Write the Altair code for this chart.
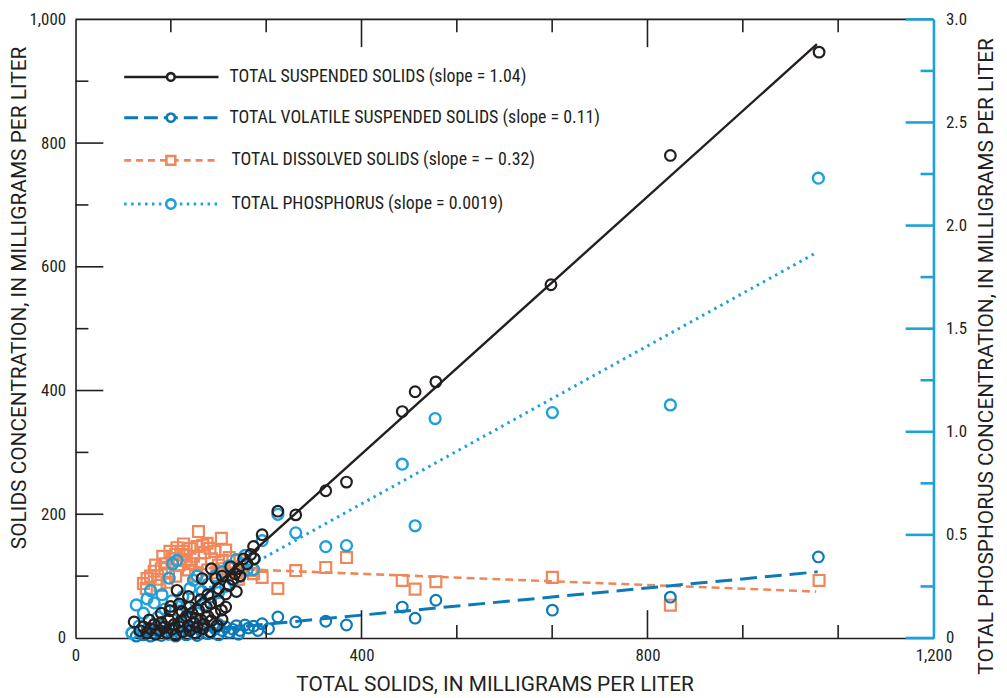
import altair as alt
import pandas as pd

# ---------------- data ----------------
tss_x = [1040, 832, 665, 504, 475, 457, 379, 350, 308, 283, 261, 249, 250, 235, 217, 223, 190, 196, 177, 210,
         142, 158, 189, 133, 204, 149, 168, 103, 82,
         90, 95, 100, 105, 110, 112, 118, 120, 125, 128, 130, 135, 138, 140, 145, 148, 150, 155, 158, 160,
         163, 165, 168, 170, 172, 175, 178, 180, 183, 185, 188, 190, 195, 198, 200, 205, 210, 215, 220, 225,
         230, 240, 245, 120, 132, 145, 160, 175, 185, 200, 205, 228]
tss_y = [947, 780, 571, 414, 398, 366, 252, 238, 199, 205, 167, 148, 128, 128, 115, 104, 112, 96, 96, 71,
         77, 67, 56, 51, 45, 43, 32, 29, 26,
         12, 18, 8, 15, 22, 6, 12, 25, 18, 8, 30, 14, 22, 5, 18, 28, 10, 35, 20, 12,
         40, 25, 8, 18, 45, 30, 15, 22, 50, 35, 10, 28, 40, 20, 60, 30, 50, 85, 95, 75,
         100, 120, 135, 40, 44, 55, 50, 62, 70, 80, 100, 112]

tvss_x = [1039, 832, 667, 504, 457, 475, 379, 350, 308, 283, 261, 249,
          79, 85, 90, 95, 100, 105, 110, 115, 120, 125, 130, 135, 140, 145, 150, 155, 160, 165, 170, 175,
          180, 185, 190, 195, 200, 205, 210, 215, 220, 225, 230, 237, 242, 270, 118, 150, 200, 255, 228]
tvss_y = [131, 66, 45, 61, 50, 32, 21, 27, 26, 34, 23, 19,
          8, 3, 10, 5, 12, 3, 8, 14, 4, 10, 6, 15, 3, 9, 12, 5, 16, 8, 4, 12,
          18, 7, 10, 15, 5, 12, 18, 9, 14, 20, 12, 21, 16, 15, 20, 22, 22, 12, 6]

tds_x = [1040, 832, 667, 504, 475, 457, 379, 350, 308, 283, 261, 249, 237, 246,
         172, 204, 210, 184, 151, 100, 99, 95, 105, 110, 115, 120, 125, 130, 135, 140, 145, 150, 155, 160,
         165, 170, 175, 180, 185, 190, 195, 200, 205, 215, 220, 225, 230, 112, 122, 132, 142, 152, 162,
         178, 188, 198, 208, 140, 128, 118, 158, 168, 228]
tds_y = [93, 53, 98, 91, 79, 93, 130, 114, 109, 80, 98, 104, 120, 109,
         172, 161, 142, 153, 152, 96, 80, 88, 100, 108, 95, 112, 120, 105, 128, 135, 118, 140, 125, 145,
         132, 148, 120, 138, 110, 128, 140, 118, 125, 130, 115, 105, 125, 118, 132, 140, 146, 134, 120,
         150, 145, 105, 112, 100, 90, 85, 110, 100, 95]

tp_x = [1039, 832, 667, 503, 457, 475, 379, 350, 308, 283, 261, 250, 249, 237,
        142, 136, 131, 105, 100, 85, 121, 79, 89, 177, 95, 110, 150, 160, 165, 170, 185, 195, 205, 215,
        225, 230, 210, 190, 180, 170, 160, 150, 140, 130, 120, 115, 125, 135, 145, 155, 200, 220, 240]
tp_y = [2.23, 1.13, 1.093, 1.064, 0.843, 0.544, 0.448, 0.443, 0.51, 0.60, 0.472, 0.385, 0.332, 0.40,
        0.376, 0.36, 0.29, 0.23, 0.19, 0.16, 0.21, 0.024, 0.058, 0.226, 0.12, 0.17, 0.20, 0.24, 0.28, 0.30,
        0.26, 0.30, 0.32, 0.35, 0.38, 0.30, 0.25, 0.20, 0.16, 0.12, 0.09, 0.06, 0.04, 0.02, 0.05, 0.10,
        0.14, 0.18, 0.13, 0.15, 0.22, 0.28, 0.33]

# fitted lines (end points)
tss_fit_x = [120, 1037]
tss_fit_y = [6, 960]
tvss_fit_x = [100, 1038]
tvss_fit_y = [4, 107]
tds_fit_x = [150, 1036]
tds_fit_y = [115, 75]
tp_fit_x = [170, 1037]
tp_fit_y = [0.21, 1.87]

legend_labels = ["TOTAL SUSPENDED SOLIDS (slope = 1.04)",
                 "TOTAL VOLATILE SUSPENDED SOLIDS (slope = 0.11)",
                 "TOTAL DISSOLVED SOLIDS (slope = \u2013 0.32)",
                 "TOTAL PHOSPHORUS (slope = 0.0019)"]

x_labels = [0, 400, 800, 1200]
y_labels = [0, 200, 400, 600, 800, 1000]
r_labels = [0, 0.5, 1.0, 1.5, 2.0, 2.5, 3.0]
x_ticks_major = [400, 800]
x_ticks_minor = [133.33, 266.67, 533.33, 666.67, 933.33, 1066.67]
y_ticks_major = [200, 400, 600, 800]
y_ticks_minor = [100, 300, 500, 700, 900]
r_ticks_major = [0, 0.5, 1.0, 1.5, 2.0, 2.5, 3.0]
r_ticks_minor = [0.25, 0.75, 1.25, 1.75, 2.25, 2.75]

# ---------------- style ----------------
W, H = 864, 623
FONT = "Roboto Condensed, Liberation Sans Narrow, DejaVu Sans Condensed, Arial Narrow, sans-serif"
TFONT = "Roboto, Liberation Sans, sans-serif"
BLACK = "#231f20"
DBLUE = "#0d7ab8"
ORANGE = "#f0875a"
LBLUE = "#1ea0da"
MAJ, MIN = 28, 13

xscale = alt.Scale(domain=[0, 1200], nice=False, zero=False)
yl = alt.Scale(domain=[0, 1000], nice=False, zero=False)
yr = alt.Scale(domain=[0, 3], nice=False, zero=False)

x_axis = alt.Axis(values=x_labels, format=",.0f", ticks=False, grid=False,
                  domainColor=BLACK, domainWidth=1.6, labelFont=FONT, labelFontSize=17,
                  labelColor=BLACK, labelPadding=10, labelFlush=False, labelOverlap=False,
                  title="TOTAL SOLIDS, IN MILLIGRAMS PER LITER", titleFont=TFONT, titleFontSize=21,
                  titleFontWeight="normal", titleColor=BLACK, titleX=422, titleY=53,
                  titleBaseline="alphabetic")
yl_axis = alt.Axis(orient="left", values=y_labels, format=",.0f", ticks=False,
                   grid=False, domainColor=BLACK, domainWidth=1.6, labelFont=FONT, labelFontSize=17,
                   labelColor=BLACK, labelPadding=10, labelFlush=False, labelOverlap=False,
                   title="SOLIDS CONCENTRATION, IN MILLIGRAMS PER LITER", titleFont=TFONT,
                   titleFontSize=21, titleFontWeight="normal", titleColor=BLACK, titleAngle=270,
                   titleX=-56, titleY=280, titleAlign="center", titleBaseline="middle")
yr_axis = alt.Axis(orient="right", values=r_labels, ticks=False, grid=False,
                   labelExpr="datum.value == 0 ? '0' : format(datum.value, '.1f')",
                   domainColor=LBLUE, domainWidth=2.6, labelFont=FONT, labelFontSize=17,
                   labelColor=BLACK, labelPadding=12, labelFlush=False, labelOverlap=False,
                   title="TOTAL PHOSPHORUS CONCENTRATION, IN MILLIGRAMS PER LITER", titleFont=TFONT,
                   titleFontSize=21, titleFontWeight="normal", titleColor=BLACK, titleAngle=270,
                   titleX=53, titleY=339, titleAlign="center", titleBaseline="middle")


def X(f):
    return alt.X(f, type="quantitative", scale=xscale, axis=x_axis)


def YL(f):
    return alt.Y(f, type="quantitative", scale=yl, axis=yl_axis)


def YR(f):
    return alt.Y(f, type="quantitative", scale=yr, axis=yr_axis)


df_tvss = pd.DataFrame({"x": tvss_x, "y": tvss_y})
df_tds = pd.DataFrame({"x": tds_x, "y": tds_y})
df_tss = pd.DataFrame({"x": tss_x, "y": tss_y})
df_tp = pd.DataFrame({"x": tp_x, "y": tp_y})

one = pd.DataFrame({"a": [0]})

# ---------------- left-scale layer (axes, TDS, TVSS, ticks, legend) ----------------
left_parts = []
left_parts.append(alt.Chart(df_tds).mark_point(shape="square", filled=False, color=ORANGE,
                                               strokeWidth=2.2, size=120, opacity=1)
                  .encode(x=X("x"), y=YL("y")))
left_parts.append(alt.Chart(df_tvss).mark_point(shape="circle", filled=False, color=DBLUE,
                                                strokeWidth=2.2, size=115, opacity=1)
                  .encode(x=X("x"), y=YL("y")))
left_parts.append(alt.Chart(pd.DataFrame({"x": tds_fit_x, "y": tds_fit_y}))
                  .mark_line(color=ORANGE, strokeWidth=2.6, strokeDash=[8, 5])
                  .encode(x=X("x"), y=YL("y")))
left_parts.append(alt.Chart(pd.DataFrame({"x": tvss_fit_x, "y": tvss_fit_y}))
                  .mark_line(color=DBLUE, strokeWidth=3, strokeDash=[17, 8])
                  .encode(x=X("x"), y=YL("y")))

# inward ticks: bottom and top (x), left (y)
for vals, ln in ((x_ticks_major, MAJ), (x_ticks_minor, MIN)):
    d = pd.DataFrame({"v": vals})
    left_parts.append(alt.Chart(d).mark_rule(color=BLACK, strokeWidth=1.6)
                      .encode(x=X("v"), y=alt.value(H), y2=alt.value(H - ln)))
    left_parts.append(alt.Chart(d).mark_rule(color=BLACK, strokeWidth=1.6)
                      .encode(x=X("v"), y=alt.value(0), y2=alt.value(ln)))
for vals, ln in ((y_ticks_major, MAJ), (y_ticks_minor, MIN)):
    d = pd.DataFrame({"v": vals})
    left_parts.append(alt.Chart(d).mark_rule(color=BLACK, strokeWidth=1.6)
                      .encode(y=YL("v"), x=alt.value(0), x2=alt.value(ln)))
# top frame line
left_parts.append(alt.Chart(one).mark_rule(color=BLACK, strokeWidth=1.6)
                  .encode(x=alt.value(0), x2=alt.value(W), y=alt.value(0)))

# legend
leg_rows = [58, 99, 142, 186]
leg_text_x = [155, 155, 157, 157]
leg_colors = [BLACK, DBLUE, ORANGE, LBLUE]
leg_dash = [[1, 0], [14, 6], [7, 5], [2.5, 4.5]]
leg_width = [2.4, 3, 2.6, 3]
leg_shape = ["circle", "circle", "square", "circle"]
leg_size = [60, 70, 80, 90]
for i, lab in enumerate(legend_labels):
    ry = leg_rows[i]
    left_parts.append(alt.Chart(one).mark_rule(color=leg_colors[i], strokeWidth=leg_width[i],
                                               strokeDash=leg_dash[i])
                      .encode(x=alt.value(49), x2=alt.value(144), y=alt.value(ry)))
    left_parts.append(alt.Chart(one).mark_point(shape=leg_shape[i], filled=True, fill="white",
                                                stroke=leg_colors[i], strokeWidth=2.6,
                                                size=leg_size[i], opacity=1)
                      .encode(x=alt.value(96), y=alt.value(ry)))
    left_parts.append(alt.Chart(one).mark_text(align="left", baseline="middle", font=FONT,
                                               fontSize=18, color=BLACK)
                      .encode(x=alt.value(leg_text_x[i]), y=alt.value(ry), text=alt.value(lab)))

left_layer = alt.layer(*left_parts)

# ---------------- right-scale layer (phosphorus) ----------------
right_parts = []
right_parts.append(alt.Chart(df_tp).mark_point(shape="circle", filled=False, color=LBLUE,
                                               strokeWidth=2.4, size=120, opacity=1)
                   .encode(x=X("x"), y=YR("y")))
right_parts.append(alt.Chart(pd.DataFrame({"x": tp_fit_x, "y": tp_fit_y}))
                   .mark_line(color=LBLUE, strokeWidth=3, strokeDash=[2.5, 4.5])
                   .encode(x=X("x"), y=YR("y")))
for vals, ln in ((r_ticks_major, MAJ), (r_ticks_minor, MIN)):
    d = pd.DataFrame({"v": vals})
    right_parts.append(alt.Chart(d).mark_rule(color=LBLUE, strokeWidth=2.6)
                       .encode(y=YR("v"), x=alt.value(W), x2=alt.value(W - ln)))
right_layer = alt.layer(*right_parts)

# ---------------- TSS on top (same left domain, no axis) ----------------
tss_parts = [
    alt.Chart(df_tss).mark_point(shape="circle", filled=False, color=BLACK, strokeWidth=2.2,
                                 size=115, opacity=1)
    .encode(x=X("x"), y=alt.Y("y", type="quantitative", scale=yl, axis=None)),
    alt.Chart(pd.DataFrame({"x": tss_fit_x, "y": tss_fit_y}))
    .mark_line(color=BLACK, strokeWidth=2.4)
    .encode(x=X("x"), y=alt.Y("y", type="quantitative", scale=yl, axis=None)),
]
tss_layer = alt.layer(*tss_parts)

chart = (alt.layer(left_layer, right_layer, tss_layer)
         .resolve_scale(y="independent")
         .properties(width=W, height=H,
                     padding={"left": 68, "top": 9, "right": 66, "bottom": 57},
                     autosize=alt.AutoSizeParams(type="none"))
         .configure_view(stroke=None)
         .configure(background="white"))

chart.save("out.html", embed_options={"renderer": "svg", "actions": False})
